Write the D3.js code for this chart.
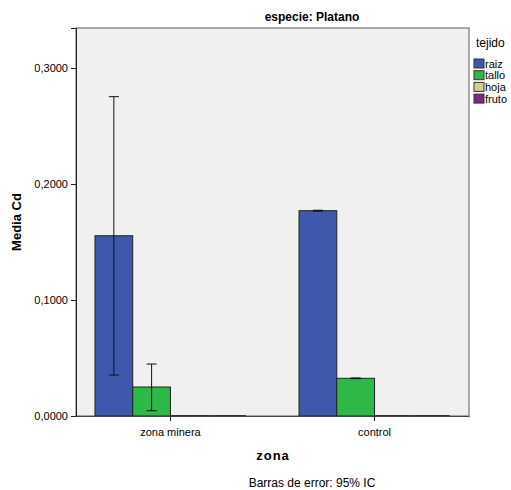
<!DOCTYPE html>
<html>
<head>
<meta charset="utf-8">
<script src="https://cdn.jsdelivr.net/npm/d3@7"></script>
<style>
  body { margin: 0; background: #fff; }
  text { font-family: "Liberation Sans", Arial, sans-serif; fill: #000; }
</style>
</head>
<body>
<div id="chart"></div>
<script>
  var zonas = ["zona minera", "control"];
  var tejidos = ["raiz", "tallo", "hoja", "fruto"];
  var colores = ["#3e58ac", "#2eb848", "#d3ce97", "#7c287d"];
  // media Cd por zona (filas) y tejido (columnas)
  var medias = [
    [0.1554, 0.0250, 0, 0],
    [0.1770, 0.0325, 0, 0]
  ];
  // intervalo de confianza 95%
  var icBajo = [
    [0.0353, 0.0046, null, null],
    [0.1766, 0.0322, null, null]
  ];
  var icAlto = [
    [0.2753, 0.0448, null, null],
    [0.1774, 0.0328, null, null]
  ];
  var yTicks = [0, 0.1, 0.2, 0.3];

  var width = 511, height = 490;
  var pLeft = 76, pRight = 469, pTop = 28, pBottom = 416;

  var svg = d3.select("#chart").append("svg")
    .attr("width", width).attr("height", height);

  var y = d3.scaleLinear().domain([0, 0.3345]).range([pBottom, pTop]);
  var x0 = d3.scaleBand().domain(zonas).range([pLeft, pRight])
    .paddingInner(0.26).paddingOuter(0.093);
  var x1 = d3.scaleBand().domain(tejidos).range([0, x0.bandwidth()]);
  var color = d3.scaleOrdinal().domain(tejidos).range(colores);

  // plot area
  svg.append("rect")
    .attr("x", pLeft).attr("y", pTop)
    .attr("width", pRight - pLeft).attr("height", pBottom - pTop)
    .attr("fill", "#f0f0f0").attr("stroke", "#777").attr("stroke-width", 1.2);

  // bars
  var rows = [];
  zonas.forEach(function(z, i) {
    tejidos.forEach(function(t, j) {
      rows.push({ zona: z, tejido: t, v: medias[i][j], lo: icBajo[i][j], hi: icAlto[i][j] });
    });
  });

  svg.append("g").selectAll("rect").data(rows.filter(function(d) { return d.v > 0; }))
    .enter().append("rect")
    .attr("x", function(d) { return x0(d.zona) + x1(d.tejido); })
    .attr("y", function(d) { return y(d.v); })
    .attr("width", x1.bandwidth())
    .attr("height", function(d) { return y(0) - y(d.v); })
    .attr("fill", function(d) { return color(d.tejido); })
    .attr("stroke", "#222").attr("stroke-width", 1);

  // zero-height bars show only as a dark line on the baseline
  svg.append("g").selectAll("line").data(rows.filter(function(d) { return d.v === 0; }))
    .enter().append("line")
    .attr("x1", function(d) { return x0(d.zona) + x1(d.tejido); })
    .attr("x2", function(d) { return x0(d.zona) + x1(d.tejido) + x1.bandwidth(); })
    .attr("y1", function(d) { return y(d.v); })
    .attr("y2", function(d) { return y(d.v); })
    .attr("stroke", "#111").attr("stroke-width", 1.6);

  // error bars
  var eb = svg.append("g").attr("stroke", "#111").attr("stroke-width", 1);
  rows.filter(function(d) { return d.lo !== null; }).forEach(function(d) {
    var cx = x0(d.zona) + x1(d.tejido) + x1.bandwidth() / 2;
    eb.append("line").attr("x1", cx).attr("x2", cx)
      .attr("y1", y(d.lo)).attr("y2", y(d.hi));
    [d.lo, d.hi].forEach(function(v) {
      eb.append("line").attr("x1", cx - 5).attr("x2", cx + 5)
        .attr("y1", y(v)).attr("y2", y(v));
    });
  });

  // y axis
  var yAxis = d3.axisLeft(y).tickValues(yTicks).tickSize(5)
    .tickFormat(function(d) { return d3.format(".4f")(d).replace(".", ","); });
  svg.append("g").attr("transform", "translate(" + pLeft + ",0)").call(yAxis)
    .call(function(g) {
      g.select(".domain").attr("stroke", "#222");
      g.selectAll(".tick line").attr("stroke", "#222");
      g.selectAll("text").style("font-size", "11px").attr("fill", "#000");
    });

  // x axis
  var xAxis = d3.axisBottom(x0).tickSize(5).tickSizeOuter(0);
  svg.append("g").attr("transform", "translate(0," + pBottom + ")").call(xAxis)
    .call(function(g) {
      g.select(".domain").attr("stroke", "#444");
      g.selectAll(".tick line").attr("stroke", "#222");
      g.selectAll("text").style("font-size", "11px").attr("dy", "1.05em").attr("fill", "#000");
    });

  // titles
  svg.append("text").attr("x", 312).attr("y", 21).attr("text-anchor", "middle")
    .style("font-size", "12px").style("font-weight", "bold").text("especie: Platano");
  svg.append("text").attr("transform", "translate(21,222) rotate(-90)")
    .attr("text-anchor", "middle").style("font-size", "13px").style("font-weight", "bold")
    .text("Media Cd");
  svg.append("text").attr("x", 273).attr("y", 460).attr("text-anchor", "middle")
    .style("font-size", "13px").style("font-weight", "bold").style("letter-spacing", "1px")
    .text("zona");
  svg.append("text").attr("x", 312).attr("y", 487).attr("text-anchor", "middle")
    .style("font-size", "12px").text("Barras de error: 95% IC");

  // legend
  var lg = svg.append("g").attr("transform", "translate(474,0)");
  lg.append("text").attr("x", 2).attr("y", 47).style("font-size", "12px").text("tejido");
  tejidos.forEach(function(t, i) {
    var yy = 59 + i * 11.7;
    lg.append("rect").attr("x", 0).attr("y", yy).attr("width", 10).attr("height", 9)
      .attr("fill", color(t)).attr("stroke", "#333").attr("stroke-width", 1);
    lg.append("text").attr("x", 11).attr("y", yy + 8.5).style("font-size", "11px").text(t);
  });
</script>
</body>
</html>
